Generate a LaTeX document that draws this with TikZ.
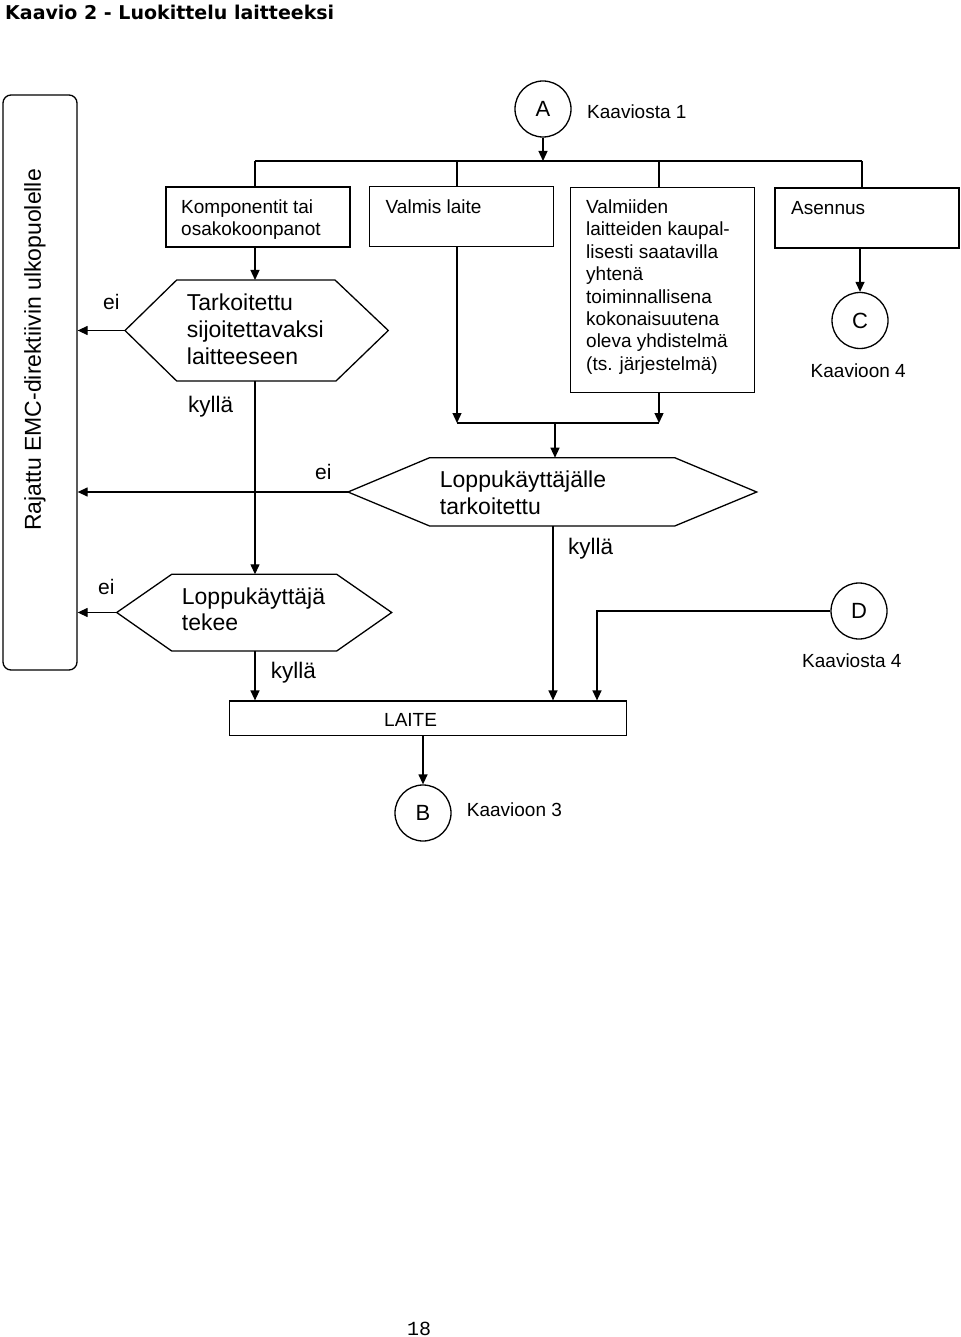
\documentclass[tikz,border=0pt]{standalone}
\usepackage{fontspec}
\setmainfont{Liberation Sans}
\newfontfamily\titlefont{DejaVu Sans}
\newfontfamily\pagefont{Liberation Mono}
\usetikzlibrary{arrows.meta,calc}
\begin{document}
\begin{tikzpicture}[x=1pt,y=-1pt,
  ln/.style={line width=1.3pt},
  arr/.style={line width=1.3pt,-{Triangle[length=10pt,width=9pt]}},
  boxs/.style={draw,line width=1.3pt,inner sep=0pt,minimum width=184pt,minimum height=60pt},
  circ/.style={draw,circle,line width=1.3pt,inner sep=0pt,minimum size=56pt,font=\fontsize{22}{26}\selectfont},
  tsm/.style={inner sep=0pt,anchor=base west,align=left,font=\fontsize{19}{22.3}\selectfont},
  tbig/.style={inner sep=0pt,anchor=base west,align=left,font=\fontsize{23}{27}\selectfont},
  tei/.style={inner sep=0pt,anchor=base west,font=\fontsize{21}{25}\selectfont},
  tky/.style={inner sep=0pt,anchor=base west,font=\fontsize{22.5}{26}\selectfont},
  hexs/.style={line width=1.3pt,line join=miter}
]
\useasboundingbox (0,0) rectangle (960,1337);

% title
\node[inner sep=0pt,anchor=base west,font=\titlefont\bfseries\fontsize{19}{23}\selectfont] (title) at (5,20) {Kaavio 2 - Luokittelu laitteeksi};

% side box
\node[draw,line width=1.3pt,rounded corners=8pt,minimum width=74pt,minimum height=575pt,inner sep=0pt] (side) at (40,382.5) {};
\node[rotate=90,inner sep=0pt,font=\fontsize{23}{27}\selectfont] (sidetxt) at (35,350) {Rajattu EMC-direktiivin ulkopuolelle};

% connector A
\node[circ] (A) at (543,109) {A};
\node[tsm] (Atxt) at (587,118.8) {Kaaviosta 1};

% boxes (multi-line text nodes: base = last line)
\node[boxs] (b1) at (258,217) {};
\node[tsm] (b1t) at (181,235.8) {Komponentit tai\\osakokoonpanot};
\node[boxs] (b2) at (461.6,216.7) {};
\node[tsm] (b2t) at (385.5,213.5) {Valmis laite};
\node[boxs,minimum height=204.6pt] (b3) at (662.5,290) {};
\node[tsm,font=\fontsize{19}{22.4}\selectfont] (b3t) at (586,370.3) {Valmiiden\\laitteiden kaupal-\\lisesti saatavilla\\yhtenä\\toiminnallisena\\kokonaisuutena\\oleva yhdistelmä\\(ts. järjestelmä)};
\node[boxs] (b4) at (867,218) {};
\node[tsm] (b4t) at (791,214.5) {Asennus};

% C
\node[circ] (C) at (860,320.5) {C};
\node[tsm] (Ctxt) at (810.5,377.8) {Kaavioon 4};

% D
\node[circ] (D) at (859,611) {D};
\node[tsm] (Dtxt) at (802,667.5) {Kaaviosta 4};

% LAITE
\node[draw,line width=1.3pt,inner sep=0pt,minimum width=397.4pt,minimum height=34.7pt] (laite) at (428,718.4) {};
\node[tsm] (laitet) at (384,726.8) {LAITE};

% B
\node[circ] (B) at (423,813) {B};
\node[tsm] (Btxt) at (466.7,816.8) {Kaavioon 3};

% hexagons
\coordinate (h1w) at (125,330.5);
\coordinate (h1e) at (388.3,330.5);
\coordinate (h1n) at (255,280);
\coordinate (h1s) at (255,381);
\draw[hexs] (h1w) -- (176.7,280) -- (335,280) -- (h1e) -- (336,381) -- (176.7,381) -- cycle;
\node[tbig] (h1t) at (186.7,364.9) {Tarkoitettu\\sijoitettavaksi\\laitteeseen};

\coordinate (h2w) at (116.7,612.5);
\coordinate (h2n) at (255,574.3);
\coordinate (h2s) at (255,651);
\draw[hexs] (h2w) -- (171.7,574.3) -- (336.7,574.3) -- (391.7,612.5) -- (336.7,651) -- (171.7,651) -- cycle;
\node[tbig,font=\fontsize{23}{26}\selectfont] (h2t) at (181.7,630.9) {Loppukäyttäjä\\tekee};

\coordinate (h3w) at (348,492);
\coordinate (h3n) at (555,457.7);
\coordinate (h3s) at (553,526);
\draw[hexs] (h3w) -- (429.6,457.7) -- (674.7,457.7) -- (756.7,492) -- (674.7,526) -- (429.6,526) -- cycle;
\node[tbig] (h3t) at (439.7,514.2) {Loppukäyttäjälle\\tarkoitettu};

% labels
\node[tei] (ei1) at (103,309.2) {ei};
\node[tei] (ei2) at (98,594.2) {ei};
\node[tei] (ei3) at (315,479.2) {ei};
\node[tky] (ky1) at (188,412.5) {kyllä};
\node[tky] (ky2) at (270.7,678.5) {kyllä};
\node[tky] (ky3) at (568,554) {kyllä};

% page number
\node[inner sep=0pt,anchor=base west,font=\pagefont\fontsize{20}{24}\selectfont] (page) at (407,1335) {18};

% bus
\coordinate (busA) at (543,161);
\coordinate (bus1) at (255,161);
\coordinate (bus2) at (457,161);
\coordinate (bus3) at (659,161);
\coordinate (bus4) at (862,161);
\draw[arr] (A) -- (busA);
\draw[ln] (bus1) -- (bus4);
\draw[ln] (bus1) -- (bus1 |- b1.north);
\draw[ln] (bus2) -- (bus2 |- b2.north);
\draw[ln] (bus3) -- (bus3 |- b3.north);
\draw[ln] (bus4) -- (bus4 |- b4.north);

% left column
\draw[arr] (h1n |- b1.south) -- (h1n);
\draw[arr] (h1w) -- (side.east |- h1w);
\draw[arr] (h1s) -- (h2n);
\draw[arr] (h2w) -- (side.east |- h2w);
\draw[arr] (h2s) -- (h2s |- laite.north);

% middle merge
\coordinate (m1) at (457,423);
\coordinate (m2) at (659,423);
\coordinate (m3) at (555,423);
\draw[arr] (m1 |- b2.south) -- (m1);
\draw[arr] (m2 |- b3.south) -- (m2);
\draw[ln] (m1) -- (m2);
\draw[arr] (m3) -- (h3n);
\draw[arr] (h3w) -- (side.east |- h3w);
\draw[arr] (h3s) -- (h3s |- laite.north);

% right
\coordinate (dturn) at (597,611);
\draw[arr] (D.west) -- (dturn) -- (dturn |- laite.north);
\draw[arr] (C.north |- b4.south) -- (C.north);

% bottom
\draw[arr] (B.north |- laite.south) -- (B.north);
\end{tikzpicture}
\end{document}
